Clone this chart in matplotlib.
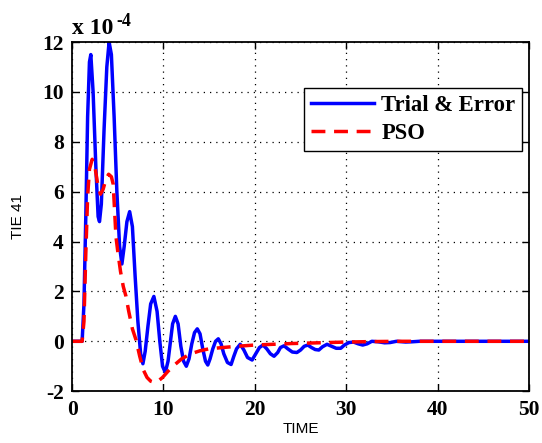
import numpy as np
import matplotlib
matplotlib.use("Agg")
import matplotlib.pyplot as plt

plt.rcParams["axes.unicode_minus"] = False

# values in units of 1e-4
t_trial = [0, 1.1, 1.3, 1.5, 1.7, 1.9, 2.05, 2.3, 2.6, 2.85, 3.0, 3.2, 3.5, 3.8, 4.05,
           4.3, 4.6, 4.9, 5.2, 5.45, 5.7, 6.0, 6.3, 6.6, 6.9, 7.2, 7.5, 7.75, 8.0, 8.3,
           8.6, 8.95, 9.3, 9.6, 9.9, 10.2, 10.5, 10.8, 11.0, 11.3, 11.6, 11.9, 12.2, 12.5,
           12.8, 13.1, 13.4, 13.7, 14.0, 14.3, 14.6, 14.85, 15.1, 15.4, 15.7, 16.0, 16.3,
           16.6, 17.0, 17.4, 17.7, 18.0, 18.4, 18.8, 19.2, 19.7, 20.1, 20.5, 20.9, 21.3,
           21.7, 22.1, 22.5, 22.8, 23.2, 23.6, 24.1, 24.6, 25.0, 25.4, 25.8, 26.2, 26.6,
           27.0, 27.4, 27.9, 28.4, 28.9, 29.4, 29.8, 30.3, 30.8, 31.3, 31.8, 32.3, 32.8,
           33.5, 34.2, 34.8, 35.5, 36.5, 37.2, 38.0, 50.0]
y_trial = [0, 0, 1.5, 5, 9, 11.2, 11.5, 10, 7, 5.0, 4.8, 5.5, 8.5, 11, 12,
           11.5, 9, 6, 3.8, 3.1, 3.8, 4.8, 5.2, 4.6, 2.6, 0.8, -0.5, -0.9, -0.4, 0.6,
           1.5, 1.8, 1.2, 0, -1.0, -1.25, -0.8, 0.1, 0.7, 1.0, 0.7, -0.2, -0.8, -1.0,
           -0.7, -0.1, 0.35, 0.5, 0.3, -0.3, -0.8, -0.95, -0.7, -0.3, 0.0, 0.1, -0.1,
           -0.5, -0.85, -0.93, -0.6, -0.3, -0.12, -0.35, -0.65, -0.75, -0.5, -0.25, -0.15, -0.3,
           -0.5, -0.6, -0.45, -0.25, -0.18, -0.3, -0.43, -0.45, -0.35, -0.2, -0.15, -0.25, -0.33,
           -0.35, -0.22, -0.12, -0.2, -0.28, -0.28, -0.15, -0.05, -0.03, -0.1, -0.15, -0.1, 0.0,
           -0.02, -0.06, -0.05, 0.0, -0.03, -0.02, 0.0, 0.0]

t_pso = [0, 1.1, 1.3, 1.5, 1.7, 1.9, 2.2, 2.5, 2.8, 3.1, 3.4, 3.7, 4.0, 4.3, 4.5,
         4.8, 5.0, 5.3, 5.6, 5.9, 6.2, 6.6, 7.0, 7.4, 7.8, 8.2, 8.6, 9.0, 9.4, 9.9,
         10.5, 11.2, 12.0, 13.0, 14.0, 15.0, 16.5, 18, 20, 22, 24, 26, 28, 30, 33, 36, 50]
y_pso = [0, 0, 0.8, 3.5, 5.8, 6.9, 7.3, 7.0, 6.3, 5.9, 6.1, 6.5, 6.7, 6.6, 6.3,
         4.2, 3.6, 2.8, 2.2, 1.8, 1.2, 0.5, 0.05, -0.6, -1.15, -1.45, -1.6, -1.65, -1.6, -1.45,
         -1.2, -0.95, -0.7, -0.5, -0.38, -0.3, -0.25, -0.2, -0.15, -0.12, -0.09, -0.07, -0.05,
         -0.03, -0.01, 0, 0]

serif = "Liberation Serif"

fig = plt.figure(figsize=(5.42, 4.43), dpi=100)
ax = fig.add_axes([0.133, 0.117, 0.843, 0.788])

ax.plot(t_trial, y_trial, color="#0000ff", lw=2.5, label="Trial & Error")
ax.plot(t_pso, y_pso, color="#ff0000", lw=2.5, ls=(0, (4, 2.5)), label="PSO")

ax.set_xlim(0, 50)
ax.set_ylim(-2, 12)
ax.set_xticks(range(0, 51, 10))
ax.set_yticks(range(-2, 13, 2))
ax.grid(True, color="black", ls=(0, (1, 4)), lw=0.9)
ax.tick_params(direction="in", length=5, width=1, top=True, right=True, pad=6)
for lab in ax.get_xticklabels() + ax.get_yticklabels():
    lab.set_fontfamily(serif)
    lab.set_fontweight("bold")
    lab.set_fontsize(15.5)
for s in ax.spines.values():
    s.set_linewidth(1.3)

ax.set_xlabel("TIME", fontsize=11, family="Liberation Sans", labelpad=2)
ax.set_ylabel("TIE 41", fontsize=11, family="Liberation Sans", labelpad=12)

ax.text(0.0, 1.024, "x 10", transform=ax.transAxes, family=serif, fontweight="bold",
        fontsize=17, ha="left", va="baseline")
ax.text(0.098, 1.046, "-4", transform=ax.transAxes, family=serif, fontweight="bold",
        fontsize=13, ha="left", va="baseline")

leg = ax.legend(loc="upper left", bbox_to_anchor=(0.508, 0.868), fancybox=False,
                edgecolor="black", framealpha=1, handlelength=2.8, borderpad=0.3,
                labelspacing=0.3, handletextpad=0.3, borderaxespad=0,
                prop={"family": serif, "weight": "bold", "size": 16.3})
leg.get_frame().set_linewidth(1.0)

fig.savefig("out.png", dpi=100)
